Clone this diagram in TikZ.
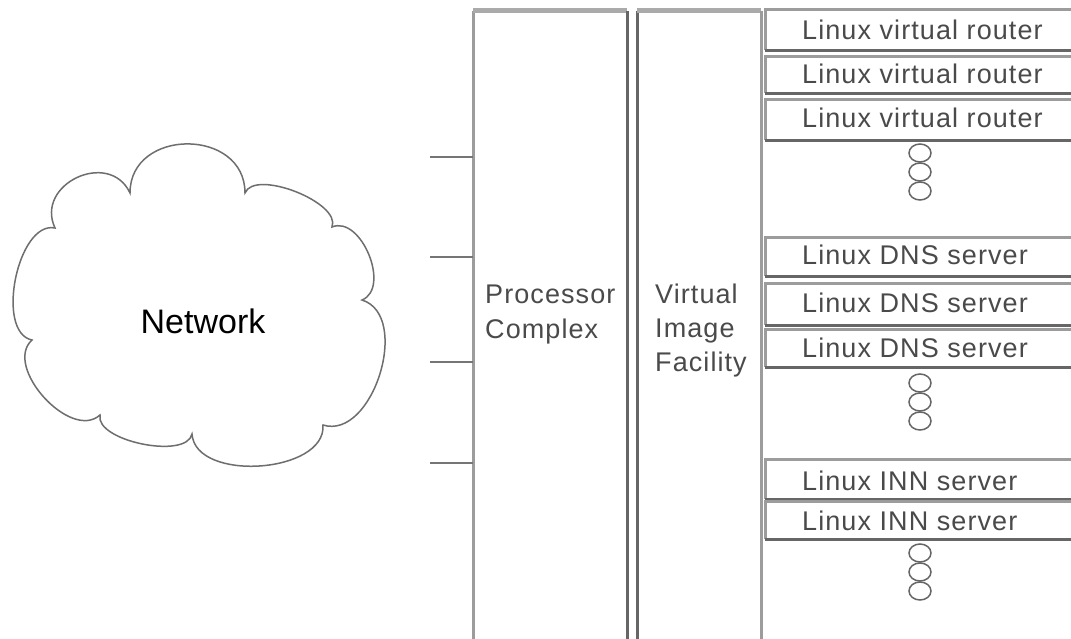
\documentclass[tikz,border=0pt]{standalone}
\usepackage{fontspec}
\setmainfont{Liberation Sans}
\newfontfamily\labfont[LetterSpace=4]{Liberation Sans}
\usetikzlibrary{shapes.geometric}
\definecolor{litec}{HTML}{9C9C9C}
\definecolor{topc}{HTML}{AAAAAA}
\definecolor{darkc}{HTML}{666666}
\definecolor{txtc}{HTML}{4A4A4A}
\definecolor{cloudc}{HTML}{6E6E6E}
\begin{document}
\begin{tikzpicture}[x=1pt,y=-1pt,
  lab/.style={font=\labfont\fontsize{27}{32}\selectfont, text=txtc, inner sep=0pt},
  lite/.style={draw=litec, line width=3pt},
  topbar/.style={draw=topc, line width=5pt},
  dark/.style={draw=darkc, line width=3pt},
  conn/.style={draw=darkc!90, line width=1.6pt},
  cloudline/.style={draw=cloudc, line width=1.5pt},
  bump/.style={out=90, in=90, relative, looseness=#1},
  box/.style={rectangle, minimum width=306pt, inner sep=0pt, anchor=north west},
  boxtext/.style={lab, anchor=base west},
  dotc/.style={ellipse, draw=darkc, line width=1.5pt, minimum width=22pt, minimum height=18pt, inner sep=0pt},
]
\useasboundingbox (0,0) rectangle (1071,639);
\fill[white] (0,0) rectangle (1071,639);

% cloud
\draw[cloudline] (130,193) to[bump=1.46] (245,193) to[bump=0.72] (332,227)
  to[bump=1.02] (362,300) to[bump=1.02] (323,425) to[bump=0.95] (192,434)
  to[bump=0.72] (100,415) to[bump=1.0] (32,340) to[bump=0.85] (55,228)
  to[bump=1.5] (130,193) -- cycle;
\node[font=\fontsize{34}{40}\selectfont, inner sep=0pt, anchor=base] (net) at (203,333) {Network};

% Processor Complex column
\coordinate (pcbl) at (473,639);
\coordinate (pctl) at (473,11);
\coordinate (pctr) at (627,11);
\coordinate (pcbr) at (627,639);
\draw[lite] (pcbl) -- (pctl);
\draw[topbar] (pctl) -- (pctr);
\draw[dark] (pctr) -- (pcbr);
\node[lab, anchor=base west] (pc1) at (485,303) {Processor};
\node[lab, anchor=base west] (pc2) at (485,338) {Complex};

% Virtual Image Facility column
\coordinate (vbl) at (637,639);
\coordinate (vtl) at (637,11);
\coordinate (vtr) at (761,11);
\coordinate (vbr) at (761,639);
\draw[dark] (vbl) -- (vtl);
\draw[topbar] (vtl) -- (vtr);
\draw[lite] (vtr) -- (vbr);
\node[lab, anchor=base west] (vf1) at (655,303) {Virtual};
\node[lab, anchor=base west] (vf2) at (655,337) {Image};
\node[lab, anchor=base west] (vf3) at (655,371) {Facility};

% connectors from the network side
\foreach \y [count=\i] in {157,257,362,463} {
  \coordinate (cs\i) at (430,\y);
  \coordinate (ce\i) at (473,\y);
  \draw[conn] (cs\i) -- (ce\i);
}

% boxes
\foreach \nm/\top/\bot/\base/\txt in {
  r1/10/50/40/Linux virtual router,
  r2/57/93/84/Linux virtual router,
  r3/100/140/128/Linux virtual router,
  d1/238/276/265/Linux DNS server,
  d2/283/325/312/Linux DNS server,
  d3/329/367/357/Linux DNS server,
  i1/459/499/490/Linux INN server,
  i2/501/539/530/Linux INN server} {
  \node[box, minimum height=\bot-\top] (\nm) at (765,\top) {};
  \draw[lite] (\nm.north east) -- (\nm.north west) -- (\nm.south west);
  \draw[dark] (\nm.south west) -- (\nm.south east);
  \node[boxtext] (\nm t) at (802,\base) {\txt};
}

% continuation circles
\foreach \nm/\y in {ra/153,rb/172,rc/191,da/383,db/402,dc/421,ia/553,ib/572,ic/591} {
  \node[dotc] (\nm) at (920,\y) {};
}
\end{tikzpicture}
\end{document}
